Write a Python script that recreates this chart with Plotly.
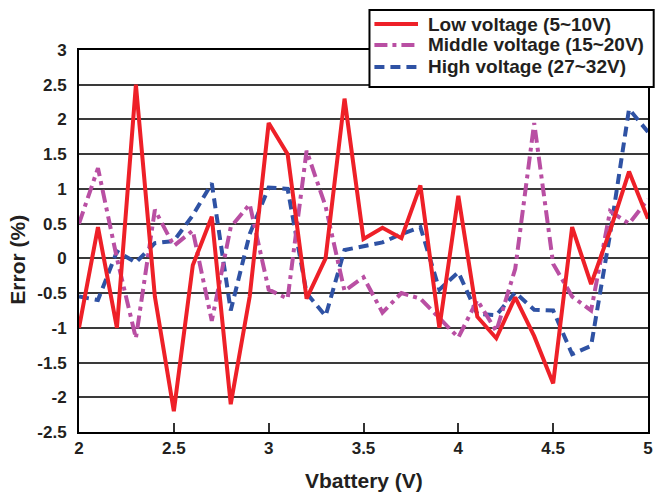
import plotly.graph_objects as go

vbattery = [2.0, 2.1, 2.2, 2.3, 2.4, 2.5, 2.6, 2.7, 2.8, 2.9,
            3.0, 3.1, 3.2, 3.3, 3.4, 3.5, 3.6, 3.7, 3.8, 3.9,
            4.0, 4.1, 4.2, 4.3, 4.4, 4.5, 4.6, 4.7, 4.8, 4.9, 5.0]

low_voltage = [-1.0, 0.45, -1.0, 2.5, -0.55, -2.2, -0.1, 0.6, -2.1, -0.55,
               1.95, 1.5, -0.58, 0.0, 2.3, 0.28, 0.44, 0.29, 1.05, -1.0,
               0.9, -0.84, -1.15, -0.56, -1.12, -1.8, 0.45, -0.37, 0.4, 1.25, 0.57]

middle_voltage = [0.5, 1.3, 0.0, -1.15, 0.7, 0.18, 0.4, -0.9, 0.45, 0.78,
                  -0.45, -0.58, 1.55, 0.75, -0.47, -0.27, -0.78, -0.5, -0.58, -0.85,
                  -1.14, -0.6, -1.05, -0.15, 1.95, -0.08, -0.55, -0.75, 0.68, 0.5, 0.85]

high_voltage = [-0.55, -0.6, 0.1, -0.06, 0.22, 0.25, 0.62, 1.08, -0.75, 0.35,
                1.02, 1.0, -0.5, -0.83, 0.12, 0.18, 0.23, 0.35, 0.45, -0.45,
                -0.2, -0.8, -0.82, -0.49, -0.74, -0.75, -1.38, -1.26, 0.35, 2.15, 1.82]

series_names = ["Low voltage (5~10V)", "Middle voltage (15~20V)", "High voltage (27~32V)"]
series_colors = ["#EE2028", "#B94FA3", "#2F52A4"]
series_dashes = ["solid", "13px,5px,4px,5px", "10px,6px"]

x_tick_vals = [2, 2.5, 3, 3.5, 4, 4.5, 5]
x_tick_text = ["2", "2.5", "3", "3.5", "4", "4.5", "5"]
y_tick_vals = [-2.5, -2, -1.5, -1, -0.5, 0, 0.5, 1, 1.5, 2, 2.5, 3]
y_tick_text = ["-2.5", "-2", "-1.5", "-1", "-0.5", "0", "0.5", "1", "1.5", "2", "2.5", "3"]

FONT = "Liberation Sans, Arial, sans-serif"
TXT = "#231F20"

fig = go.Figure()
series_values = [low_voltage, middle_voltage, high_voltage]
# draw High first, Low last (red on top)
for i in [2, 1, 0]:
    fig.add_trace(go.Scatter(x=vbattery, y=series_values[i], mode="lines", name=series_names[i],
                             line=dict(color=series_colors[i], width=4, dash=series_dashes[i]),
                             showlegend=False))

# Custom legend box (paper coords relative to plot area)
leg_x0, leg_x1, leg_y0, leg_y1 = 0.5105, 1.01, 0.903, 1.1047
row_y = [1.068, 1.0131, 0.9555]
shapes = [dict(type="rect", xref="paper", yref="paper", x0=leg_x0, x1=leg_x1, y0=leg_y0, y1=leg_y1,
               line=dict(color="black", width=2), fillcolor="white", layer="above")]
annotations = []
for i in range(3):
    shapes.append(dict(type="line", xref="paper", yref="paper", x0=0.5192, x1=0.5958,
                       y0=row_y[i], y1=row_y[i], layer="above",
                       line=dict(color=series_colors[i], width=4, dash=series_dashes[i])))
    annotations.append(dict(text=series_names[i], xref="paper", yref="paper", x=0.6105, y=row_y[i],
                            xanchor="left", yanchor="middle", showarrow=False,
                            font=dict(family=FONT, size=19, color=TXT, weight="bold")))

annotations += [
    dict(text="Vbattery (V)", xref="paper", yref="paper", x=0.5, y=-0.128,
         xanchor="center", yanchor="middle", showarrow=False,
         font=dict(family=FONT, size=21, color=TXT, weight="bold")),
    dict(text="Error (%)", xref="paper", yref="paper", x=-0.108, y=0.45,
         xanchor="center", yanchor="middle", showarrow=False, textangle=-90,
         font=dict(family=FONT, size=21, color=TXT, weight="bold")),
]

fig.update_layout(
    width=655, height=495,
    margin=dict(l=79, r=2, t=50, b=63),
    paper_bgcolor="white", plot_bgcolor="white",
    font=dict(family=FONT, size=17, color=TXT, weight="bold"),
    showlegend=False,
    xaxis=dict(range=[2, 5], tickvals=x_tick_vals, ticktext=x_tick_text,
               showgrid=False, zeroline=False,
               showline=True, linecolor="black", linewidth=2, mirror=True,
               ticks="inside", ticklen=9, tickwidth=1.5, tickcolor="#333",
               ticklabeloverflow="allow",
               tickfont=dict(family=FONT, size=17, color=TXT, weight="bold")),
    yaxis=dict(range=[-2.5, 3], tickvals=y_tick_vals, ticktext=y_tick_text,
               showgrid=True, gridcolor="#3a3a3a", gridwidth=1.5, zeroline=False,
               showline=True, linecolor="black", linewidth=2, mirror=True,
               ticks="", ticklabelstandoff=7,
               tickfont=dict(family=FONT, size=17, color=TXT, weight="bold")),
    shapes=shapes,
    annotations=annotations,
)

fig.write_html("out.html")
